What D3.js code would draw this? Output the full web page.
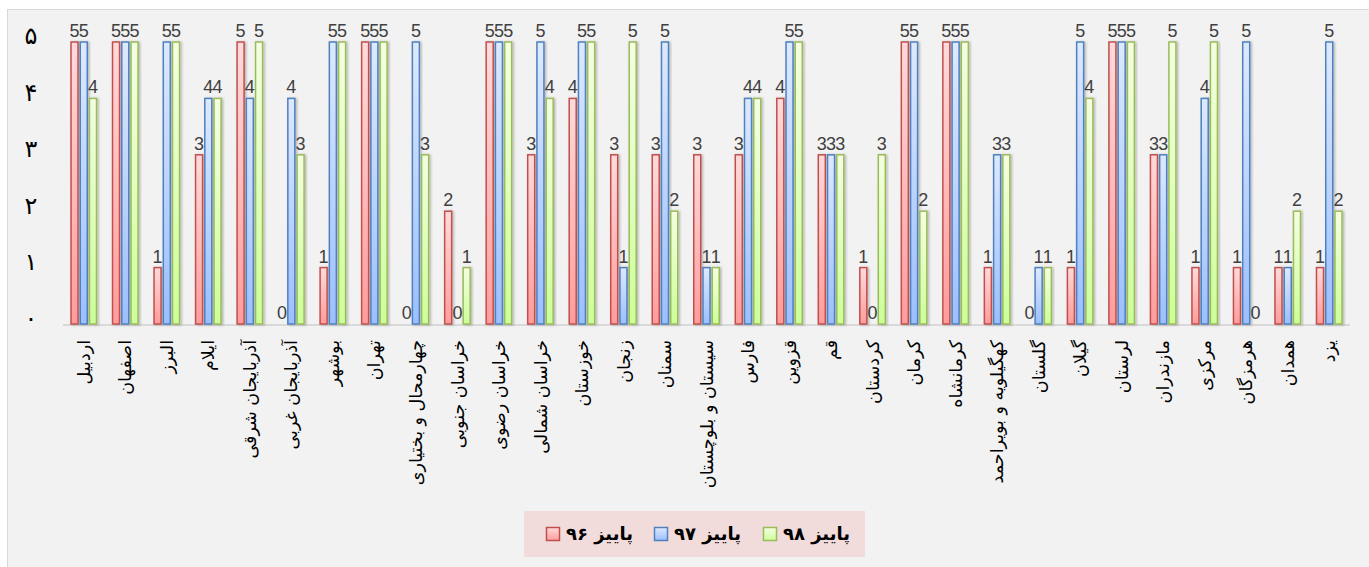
<!DOCTYPE html>
<html>
<head>
<meta charset="utf-8">
<script src="https://cdn.jsdelivr.net/npm/d3@7"></script>
<style>
  html, body { margin: 0; padding: 0; background: #ffffff; }
  svg { display: block; }
</style>
</head>
<body>
<svg id="chart" width="1369" height="567"></svg>
<script>
const categories = ["اردبیل","اصفهان","البرز","ایلام","آذربایجان شرقی","آذربایجان غربی","بوشهر","تهران","چهارمحال و بختیاری","خراسان جنوبی","خراسان رضوی","خراسان شمالی","خوزستان","زنجان","سمنان","سیستان و بلوچستان","فارس","قزوین","قم","کردستان","کرمان","کرمانشاه","کهگیلویه و بویراحمد","گلستان","گیلان","لرستان","مازندران","مرکزی","هرمزگان","همدان","یزد"];
const seriesNames = ["پاییز ۹۶","پاییز ۹۷","پاییز ۹۸"];
const values96 = [5,5,1,3,5,0,1,5,0,2,5,3,4,3,3,3,3,4,3,1,5,5,1,0,1,5,3,1,1,1,1];
const values97 = [5,5,5,4,4,4,5,5,5,0,5,5,5,1,5,1,4,5,3,0,5,5,3,1,5,5,3,4,5,1,5];
const values98 = [4,5,5,4,5,3,5,5,3,1,5,4,5,5,2,1,4,5,3,3,2,5,3,1,4,5,5,5,0,2,2];
const yTicks = [0,1,2,3,4,5];
const yTickLabels = ["۰","۱","۲","۳","۴","۵"];

const series = [values96, values97, values98];
const strokes = ["#c0504d","#4f81bd","#9bbb59"];
const gradTop = ["#ffdada","#dde9ff","#f4ffe2"];
const gradBot = ["#ff9c9c","#9cbfff","#ccff99"];

const svg = d3.select("#chart");
const defs = svg.append("defs");
series.forEach((s,i) => {
  const g = defs.append("linearGradient").attr("id","g"+i)
    .attr("x1","0").attr("y1","0").attr("x2","0").attr("y2","1");
  g.append("stop").attr("offset","0%").attr("stop-color",gradTop[i]);
  g.append("stop").attr("offset","100%").attr("stop-color",gradBot[i]);
});
const f = defs.append("filter").attr("id","sh").attr("x","-50%").attr("y","-10%").attr("width","200%").attr("height","120%");
f.append("feDropShadow").attr("dx",1.5).attr("dy",0.5).attr("stdDeviation",1).attr("flood-color","#000").attr("flood-opacity",0.25);

// chart area
svg.append("rect").attr("x",7.5).attr("y",9.5).attr("width",1380).attr("height",580)
  .attr("fill","#f2f2f2").attr("stroke","#d9d9d9").attr("stroke-width",1);

const x = d3.scaleBand().domain(categories).range([63,1350]).paddingInner(0.35).paddingOuter(0.175);
const xs = d3.scaleBand().domain(d3.range(3)).range([0, x.bandwidth()]).paddingInner(0.08);
const y = d3.scaleLinear().domain([0,5]).range([324,42]);

// baseline
svg.append("line").attr("x1",63).attr("x2",1350).attr("y1",y(0)+1).attr("y2",y(0)+1)
  .attr("stroke","#d9d9d9").attr("stroke-width",2);

// y labels
svg.append("g").selectAll("text").data(yTicks).join("text")
  .attr("x",31).attr("y",d => y(d)-6).attr("dy","0.35em")
  .attr("text-anchor","middle")
  .attr("font-family","DejaVu Sans, sans-serif").attr("font-size",24)
  .attr("fill","#000")
  .text((d,i) => yTickLabels[i]);

// bars
const groups = svg.append("g").selectAll("g").data(categories).join("g")
  .attr("transform", d => `translate(${x(d)},0)`);
series.forEach((s,si) => {
  groups.append("rect")
    .attr("x", xs(si)+0.75).attr("width", xs.bandwidth()-1.5)
    .attr("y", (d,ci) => y(s[ci])).attr("height", (d,ci) => Math.max(0, y(0)-y(s[ci])))
    .attr("fill","url(#g"+si+")").attr("stroke",strokes[si]).attr("stroke-width",1.5)
    .attr("filter","url(#sh)")
    .style("display", (d,ci) => s[ci] === 0 ? "none" : null);
});
series.forEach((s,si) => {
  groups.append("text")
    .attr("x", xs(si)+xs.bandwidth()/2).attr("y",(d,ci) => y(s[ci]) - 5)
    .attr("text-anchor","middle")
    .attr("font-family","Liberation Sans, Arial, sans-serif").attr("font-size",18)
    .attr("fill","#404040")
    .text((d,ci) => s[ci]);
});

// x labels
svg.append("g").selectAll("text").data(categories).join("text")
  .attr("transform", d => `translate(${x(d)+x.bandwidth()/2},340) rotate(-90)`)
  .attr("direction","rtl").attr("text-anchor","start").attr("dy","0.35em")
  .attr("font-family","DejaVu Sans, sans-serif").attr("font-size",17.5)
  .attr("fill","#000")
  .text(d => d);

// legend
svg.append("rect").attr("x",524).attr("y",511).attr("width",341).attr("height",46).attr("fill","#f2dcdb");
const legX = [546,654,763];
seriesNames.forEach((n,i) => {
  svg.append("rect").attr("x",legX[i]+0.5).attr("y",527.5).attr("width",13).attr("height",13)
    .attr("fill","url(#g"+i+")").attr("stroke",strokes[i]).attr("stroke-width",1.5);
  svg.append("text").attr("x",legX[i]+87).attr("y",534).attr("dy","0.35em")
    .attr("direction","rtl").attr("text-anchor","start")
    .attr("font-family","DejaVu Sans, sans-serif").attr("font-size",18).attr("font-weight","bold")
    .attr("fill","#000").text(n);
});
</script>
</body>
</html>
